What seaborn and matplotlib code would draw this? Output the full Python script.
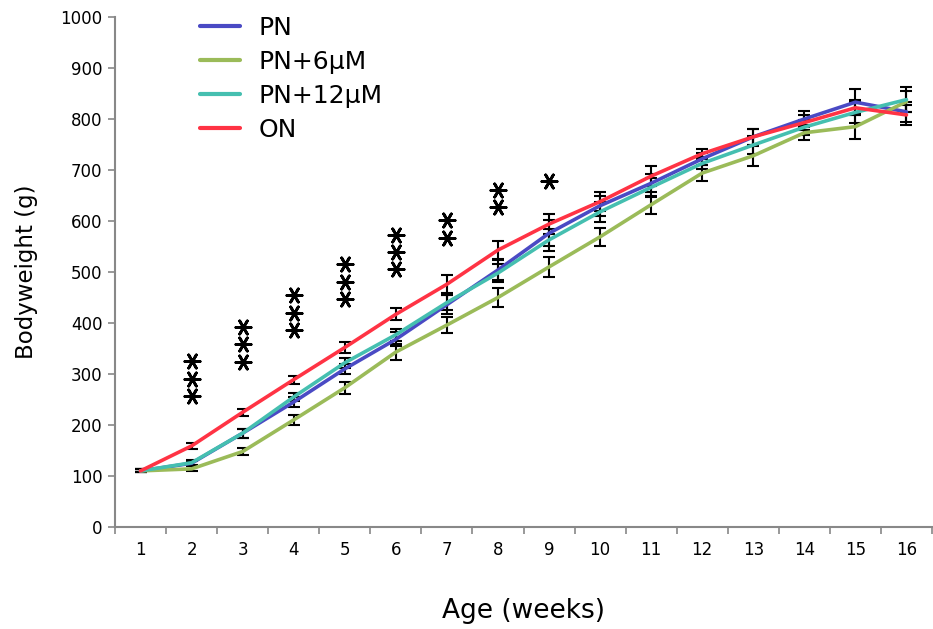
import matplotlib
matplotlib.use("Agg")
import matplotlib.pyplot as plt
import seaborn as sns
import pandas as pd
import numpy as np

weeks = list(range(1, 17))
series_names = ["PN", "PN+6\u00b5M", "PN+12\u00b5M", "ON"]
pn = [110, 125, 184, 245, 310, 368, 436, 504, 576, 630, 674, 722, 765, 800, 833, 814]
pn6 = [110, 114, 148, 210, 273, 343, 396, 450, 510, 569, 632, 694, 728, 773, 785, 834]
pn12 = [110, 126, 184, 255, 322, 377, 440, 498, 563, 618, 666, 713, 749, 784, 813, 838]
on = [110, 159, 225, 289, 352, 417, 476, 543, 594, 638, 688, 732, 765, 793, 822, 808]
pn_se = [3, 5, 9, 10, 10, 14, 18, 20, 25, 20, 18, 12, 15, 15, 25, 20]
pn6_se = [3, 5, 7, 10, 12, 15, 15, 18, 20, 18, 18, 15, 20, 15, 25, 20]
pn12_se = [3, 5, 9, 8, 10, 12, 15, 18, 22, 20, 18, 12, 18, 15, 20, 25]
on_se = [3, 6, 7, 8, 10, 12, 18, 18, 20, 18, 20, 10, 15, 15, 15, 20]
colors = ["#4a4ac4", "#9bbb59", "#45bfb0", "#ff3344"]

# significance asterisks: week, lowest star value, number of stars
star_weeks = [2, 3, 4, 5, 6, 7, 8, 9]
star_base = [257, 324, 386, 447, 505, 567, 627, 678]
star_count = [3, 3, 3, 3, 3, 2, 2, 1]
star_step = 34

values = [pn, pn6, pn12, on]
errs = [pn_se, pn6_se, pn12_se, on_se]
rows = []
for name, v, e in zip(series_names, values, errs):
    for w, y, s in zip(weeks, v, e):
        rows.append({"Week": w, "Weight": y, "SE": s, "Group": name})
df = pd.DataFrame(rows)

sns.set_style("white")
plt.rcParams['font.family'] = ['DejaVu Sans']
plt.rcParams['text.color'] = 'black'
plt.rcParams['axes.labelcolor'] = 'black'
plt.rcParams['xtick.color'] = 'black'
plt.rcParams['ytick.color'] = 'black'

fig = plt.figure(figsize=(9.33, 6.29), dpi=100)
ax = fig.add_axes([115/933, (629-527)/629, (932-115)/933, (527-17)/629])

# error bars
for name, col in zip(series_names, colors):
    d = df[df.Group == name]
    ax.errorbar(d.Week, d.Weight, yerr=d.SE, fmt='none', ecolor='black',
                elinewidth=1.5, capsize=4, capthick=1.5, zorder=2)

sns.lineplot(data=df, x="Week", y="Weight", hue="Group", palette=colors,
             hue_order=series_names, linewidth=2.6, ax=ax, zorder=3,
             errorbar=None, legend=True)

# asterisks
sx, sy = [], []
for w, b, c in zip(star_weeks, star_base, star_count):
    for k in range(c):
        sx.append(w)
        sy.append(b + k * star_step)
ax.scatter(sx, sy, marker=(6, 2, 90), s=120, color='black', linewidths=2.0, zorder=4)

ax.set_xlim(0.5, 16.5)
ax.set_ylim(0, 1000)
ax.set_yticks(np.arange(0, 1001, 100))
ax.set_xticks(weeks)
ax.set_xticklabels([str(w) for w in weeks])
ax.set_xticks(np.arange(0.5, 17, 1), minor=True)
ax.tick_params(axis='x', which='major', length=0, labelsize=12, pad=10, labelcolor='black')
ax.tick_params(axis='x', which='minor', length=5, width=1.2, color='#888888', direction='out', bottom=True)
ax.tick_params(axis='y', which='major', length=5, width=1.2, color='#888888', direction='out', left=True, labelsize=12, pad=4, labelcolor='black')

for sp in ['top', 'right']:
    ax.spines[sp].set_visible(False)
for sp in ['left', 'bottom']:
    ax.spines[sp].set_color('#888888')
    ax.spines[sp].set_linewidth(1.5)

ax.set_xlabel("Age (weeks)", fontsize=19, labelpad=28, color='black')
ax.set_ylabel("Bodyweight (g)", fontsize=16.5, labelpad=16, color='black')

handles, labels = ax.get_legend_handles_labels()
leg = ax.legend(handles, labels, loc='upper left', bbox_to_anchor=(0.0765, 1.047),
                frameon=False, fontsize=18, handlelength=1.6, handletextpad=0.75,
                labelspacing=0.4)
for t in leg.get_texts():
    t.set_color('black')
for h in leg.get_lines():
    h.set_linewidth(3)

fig.savefig("out.png", dpi=100)
